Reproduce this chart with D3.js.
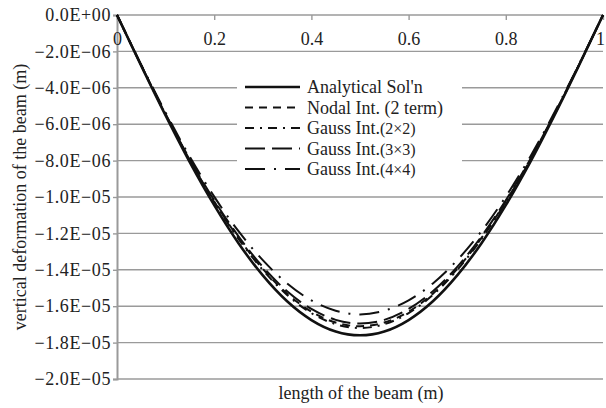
<!DOCTYPE html>
<html>
<head>
<meta charset="utf-8">
<script src="https://cdn.jsdelivr.net/npm/d3@7"></script>
<style>
  body { margin: 0; background: #fff; }
  svg { display: block; }
  svg text { font-family: "Liberation Serif", "Times New Roman", Times, "DejaVu Serif", serif; }
</style>
</head>
<body>
<svg id="chart" width="606" height="408"></svg>
<script>
// positions along the beam (m)
const xs = [0, 0.05, 0.1, 0.15, 0.2, 0.25, 0.3, 0.35, 0.4, 0.45, 0.5,
            0.55, 0.6, 0.65, 0.7, 0.75, 0.8, 0.85, 0.9, 0.95, 1]

// deflections, in micro-metres (×1e-6 m), downward
const analytical = [0, 2.80, 5.52, 8.10, 10.45, 12.54, 14.31, 15.73, 16.76, 17.39, 17.60,
                    17.39, 16.76, 15.73, 14.31, 12.54, 10.45, 8.10, 5.52, 2.80, 0]
const nodal2 = [0, 2.78, 5.47, 7.98, 10.25, 12.25, 13.95, 15.31, 16.30, 16.90, 17.10,
                16.90, 16.30, 15.31, 13.95, 12.25, 10.25, 7.98, 5.47, 2.78, 0]
const gauss2 = [0, 2.78, 5.48, 8.00, 10.28, 12.30, 14.01, 15.38, 16.38, 16.99, 17.20,
                16.99, 16.38, 15.38, 14.01, 12.30, 10.28, 8.00, 5.48, 2.78, 0]
const gauss3 = [0, 2.77, 5.44, 7.94, 10.18, 12.16, 13.84, 15.18, 16.15, 16.75, 16.95,
                16.75, 16.15, 15.18, 13.84, 12.16, 10.18, 7.94, 5.44, 2.77, 0]
const gauss4 = [0, 2.74, 5.36, 7.80, 9.98, 11.88, 13.47, 14.75, 15.68, 16.25, 16.45,
                16.25, 15.68, 14.75, 13.47, 11.88, 9.98, 7.80, 5.36, 2.74, 0]

const xTicks = [0, 0.2, 0.4, 0.6, 0.8, 1]
const yTicks = [0, -2e-6, -4e-6, -6e-6, -8e-6, -1e-5, -1.2e-5, -1.4e-5, -1.6e-5, -1.8e-5, -2e-5]
const yTickLabels = ["0.0E+00", "\u22122.0E\u221206", "\u22124.0E\u221206", "\u22126.0E\u221206",
  "\u22128.0E\u221206", "\u22121.0E\u221205", "\u22121.2E\u221205", "\u22121.4E\u221205",
  "\u22121.6E\u221205", "\u22121.8E\u221205", "\u22122.0E\u221205"]

const series = [
  { name: "Analytical Sol'n", sub: "", values: analytical, dash: null, width: 2.6 },
  { name: "Nodal Int. (2 term)", sub: "", values: nodal2, dash: "8,6", width: 2 },
  { name: "Gauss Int.", sub: "(2\u00d72)", values: gauss2, dash: "9,6,2,6", width: 2 },
  { name: "Gauss Int.", sub: "(3\u00d73)", values: gauss3, dash: "20,7", width: 2 },
  { name: "Gauss Int.", sub: "(4\u00d74)", values: gauss4, dash: "20,9,2,9", width: 2 }
]

const svg = d3.select("#chart")
const plotL = 117, plotR = 603, plotT = 15, plotB = 379
const grey = "#9a9a9a"
const serif = '"Liberation Serif", "Times New Roman", Times, serif'

const x = d3.scaleLinear().domain([0, 1]).range([plotL, plotR])
const y = d3.scaleLinear().domain([0, -2e-5]).range([plotT, plotB])

// horizontal grid
svg.append("g")
  .selectAll("line")
  .data(yTicks)
  .join("line")
    .attr("x1", plotL).attr("x2", plotR)
    .attr("y1", d => y(d)).attr("y2", d => y(d))
    .attr("stroke", grey).attr("stroke-width", 1.4)

// left axis with tick labels
const yAxis = svg.append("g")
  .attr("transform", `translate(${plotL},0)`)
  .call(d3.axisLeft(y).tickValues(yTicks).tickSize(4).tickPadding(2)
    .tickFormat((d, i) => yTickLabels[i]))
yAxis.attr("font-family", serif).attr("font-size", 18)
yAxis.select(".domain").attr("stroke", grey).attr("stroke-width", 2)
yAxis.selectAll(".tick line").attr("stroke", grey).attr("stroke-width", 1.4)
yAxis.selectAll(".tick text").attr("fill", "#222").attr("letter-spacing", 0.6)

// x ticks sit on the zero line at the top
const xAxis = svg.append("g")
  .attr("transform", `translate(0,${plotT})`)
  .call(d3.axisBottom(x).tickValues(xTicks).tickSize(5).tickPadding(12)
    .tickFormat(d => d3.format("")(d)))
xAxis.attr("font-family", serif).attr("font-size", 18)
xAxis.select(".domain").remove()
xAxis.selectAll(".tick line").attr("stroke", grey).attr("stroke-width", 1.4)
xAxis.selectAll(".tick text").attr("fill", "#222")
  .attr("dx", d => d === 1 ? -3 : 0)

// curves
const line = d3.line()
  .x((d, i) => x(xs[i]))
  .y(d => y(-d * 1e-6))
  .curve(d3.curveMonotoneX)

svg.append("g")
  .selectAll("path")
  .data(series.slice().reverse())
  .join("path")
    .attr("d", d => line(d.values))
    .attr("fill", "none")
    .attr("stroke", "#111")
    .attr("stroke-width", d => d.width)
    .attr("stroke-dasharray", d => d.dash)

// legend
const legend = svg.append("g")
legend.append("rect")
  .attr("x", 237).attr("y", 77).attr("width", 225).attr("height", 102)
  .attr("fill", "#fff")
series.forEach((s, i) => {
  const cy = 87 + i * 20.5
  legend.append("line")
    .attr("x1", 245).attr("x2", 300).attr("y1", cy).attr("y2", cy)
    .attr("stroke", "#111").attr("stroke-width", s.width)
    .attr("stroke-dasharray", s.dash)
  const t = legend.append("text")
    .attr("x", 307).attr("y", cy + 6)
    .attr("font-size", 18).attr("fill", "#222")
    .text(s.name)
  if (s.sub) t.append("tspan").attr("font-size", 16).text(s.sub)
})

// axis titles
svg.append("text")
  .attr("x", 361).attr("y", 399)
  .attr("text-anchor", "middle")
  .attr("font-size", 18).attr("fill", "#222")
  .text("length of the beam (m)")

svg.append("text")
  .attr("transform", "translate(26,197) rotate(-90)")
  .attr("text-anchor", "middle")
  .attr("font-size", 18).attr("fill", "#222")
  .text("vertical deformation of the beam (m)")
</script>
</body>
</html>
